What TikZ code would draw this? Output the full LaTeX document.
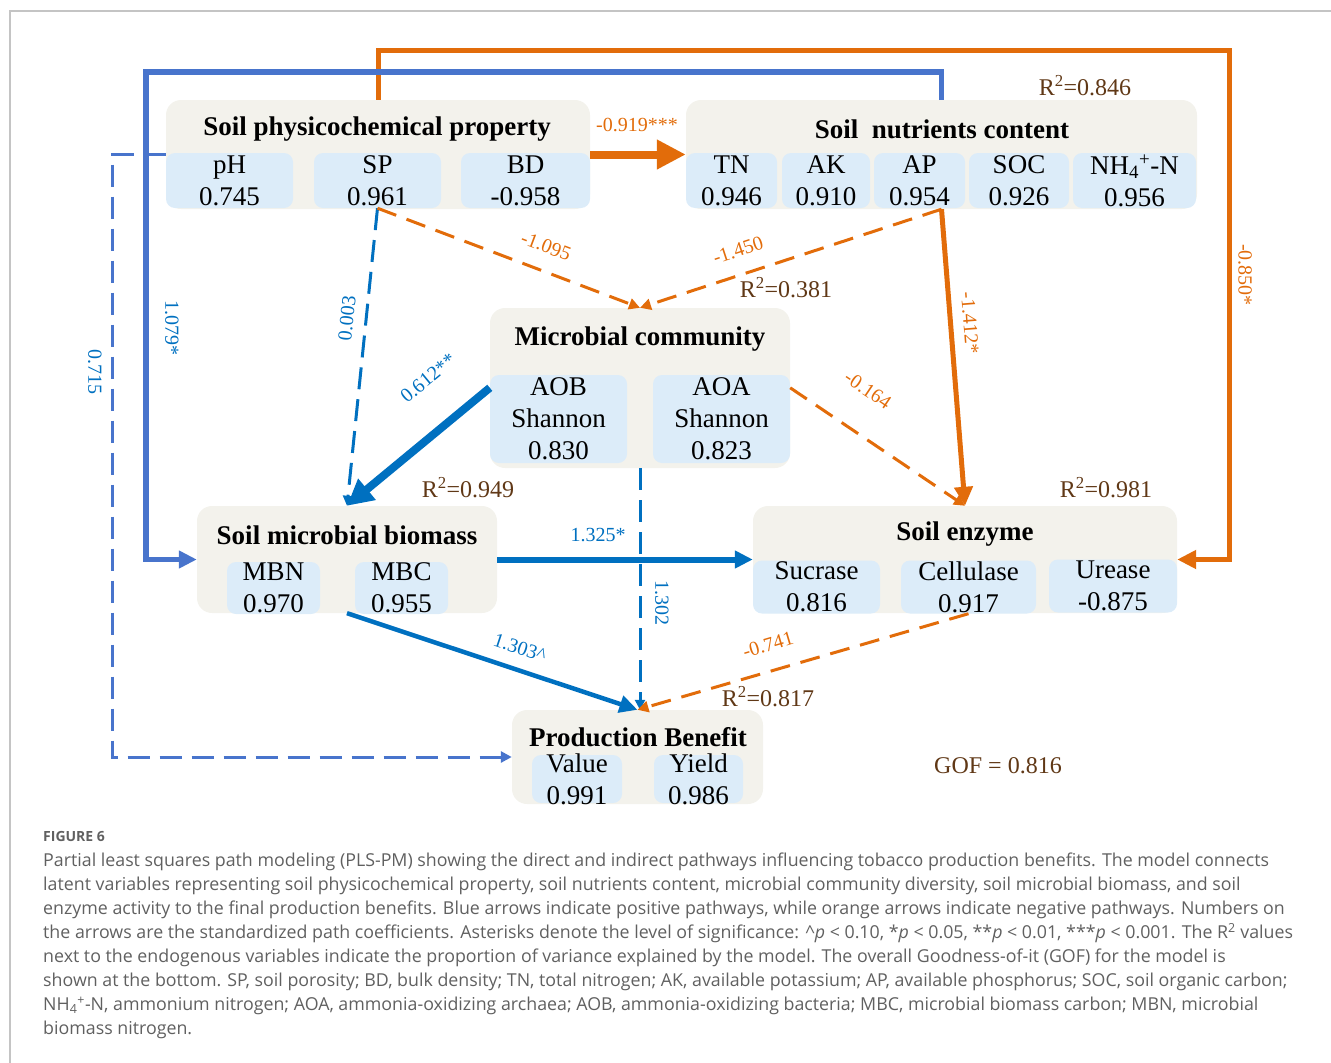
\documentclass[tikz,border=0pt]{standalone}
\usepackage{fontspec}
\setmainfont{Liberation Serif}
\newfontfamily\capfont{Open Sans}
\usetikzlibrary{arrows.meta,calc}
\definecolor{boxgray}{RGB}{243,242,236}
\definecolor{subblue}{RGB}{220,236,249}
\definecolor{negor}{RGB}{226,108,10}
\definecolor{posblue}{RGB}{0,112,192}
\definecolor{loopblue}{RGB}{72,116,204}
\definecolor{rbrown}{RGB}{96,56,22}
\definecolor{capgray}{RGB}{96,96,96}
\definecolor{framegray}{RGB}{196,196,196}
\newcommand{\nhfour}{NH\textsubscript{4}\textsuperscript{+}-N}
\newcommand{\rsq}[1]{R\textsuperscript{2}=#1}

\begin{document}
\begin{tikzpicture}[x=1pt, y=-1pt,
    outerbox/.style={
      rectangle, rounded corners=15pt, fill=boxgray, inner sep=0pt
    },
    subbox/.style 2 args={
      rectangle, rounded corners=9pt, fill=subblue, inner sep=0pt,
      minimum width=#1, minimum height=#2
    },
    subtext/.style={
      font=\fontsize{27}{32}\selectfont, align=center, inner sep=0pt
    },
    boxtitle/.style={
      font=\fontsize{27}{32}\selectfont\bfseries, inner sep=0pt
    },
    coefor/.style={text=negor, font=\fontsize{20}{24}\selectfont, inner sep=0pt},
    coefbl/.style={text=posblue, font=\fontsize{20}{24}\selectfont, inner sep=0pt},
    rsqlabel/.style={text=rbrown, font=\fontsize{24}{28}\selectfont, inner sep=0pt},
    bigneg/.style={negor, line width=8pt, -{Triangle[length=29pt,width=28pt]}},
    negline/.style={negor, line width=5pt, -{Triangle[length=19pt,width=18pt]}},
    negdash/.style={negor, line width=3pt, dash pattern=on 20pt off 11pt,
      -{Triangle[length=11pt,width=11pt]}},
    bigpos/.style={posblue, line width=8pt, -{Triangle[length=26pt,width=26pt]}},
    posline/.style={posblue, line width=#1, -{Triangle[length=18pt,width=17pt]}},
    posdash/.style={posblue, line width=3pt, dash pattern=on 22pt off 10pt,
      -{Triangle[length=10pt,width=10pt]}},
    looppos/.style={loopblue, line width=5.5pt, -{Triangle[length=18pt,width=17pt]}},
    loopdash/.style={loopblue, line width=3pt, dash pattern=on 22pt off 10pt,
      -{Triangle[length=11pt,width=11pt]}}
  ]
  \useasboundingbox (0,0) rectangle (1331,1063);
  \draw[framegray, line width=1.5pt] (10,1063) -- (10,11) -- (1331,11);

  % --- Soil physicochemical property ---
  \node[outerbox, minimum width=424pt, minimum height=109pt] (spp) at (378,154.5) {};
  \node[boxtitle] (sppT) at (377,129) {Soil physicochemical property};
  \node[subbox={127pt}{55pt}, label={[subtext]center:pH\\0.745}] (ph) at (229.5,180.5) {};
  \node[subbox={127pt}{55pt}, label={[subtext]center:SP\\0.961}] (sp) at (377.5,180.5) {};
  \node[subbox={129pt}{55pt}, label={[subtext]center:BD\\-0.958}] (bd) at (525.5,180.5) {};

  % --- Soil nutrients content ---
  \node[outerbox, minimum width=511pt, minimum height=109pt] (snc) at (941.5,154.5) {};
  \node[boxtitle] (sncT) at (942,129) {Soil\ \ nutrients content};
  \node[subbox={91pt}{55pt}, label={[subtext]center:TN\\0.946}] (tn) at (731.5,180.5) {};
  \node[subbox={88pt}{55pt}, label={[subtext]center:AK\\0.910}] (ak) at (826,180.5) {};
  \node[subbox={91pt}{55pt}, label={[subtext]center:AP\\0.954}] (ap) at (919.5,180.5) {};
  \node[subbox={100pt}{55pt}, label={[subtext]center:SOC\\0.926}] (soc) at (1019,180.5) {};
  \node[subbox={123pt}{55pt}, label={[subtext]center:\nhfour\\0.956}] (nh) at (1134.5,180.5) {};
  \node[rsqlabel] (rsnc) at (1085,86) {\rsq{0.846}};

  % --- Microbial community ---
  \node[outerbox, minimum width=300pt, minimum height=160pt] (mc) at (640,388) {};
  \node[boxtitle] (mcT) at (640,339) {Microbial community};
  \node[subbox={137pt}{88pt}, label={[subtext]center:AOB\\Shannon\\0.830}] (aob) at (558.5,419) {};
  \node[subbox={137pt}{88pt}, label={[subtext]center:AOA\\Shannon\\0.823}] (aoa) at (721.5,419) {};
  \node[rsqlabel] (rmc) at (786,288) {\rsq{0.381}};

  % --- Soil microbial biomass ---
  \node[outerbox, minimum width=300pt, minimum height=107pt] (smb) at (347,559.5) {};
  \node[boxtitle] (smbT) at (347,535) {Soil microbial biomass};
  \node[subbox={93pt}{52pt}, label={[subtext]center:MBN\\0.970}] (mbn) at (273.5,588) {};
  \node[subbox={93pt}{52pt}, label={[subtext]center:MBC\\0.955}] (mbc) at (401.5,588) {};
  \node[rsqlabel] (rsmb) at (468,488) {\rsq{0.949}};

  % --- Soil enzyme ---
  \node[outerbox, minimum width=424pt, minimum height=107pt] (se) at (965,559.5) {};
  \node[boxtitle] (seT) at (965,534) {Soil enzyme};
  \node[subbox={127pt}{53pt}, label={[subtext]center:Sucrase\\0.816}] (suc) at (816.5,587) {};
  \node[subbox={135pt}{53pt}, label={[subtext]center:Cellulase\\0.917}] (cel) at (968.5,587) {};
  \node[subbox={128pt}{53pt}, label={[subtext]center:Urease\\-0.875}] (ure) at (1113,586) {};
  \node[rsqlabel] (rse) at (1106,488) {\rsq{0.981}};

  % --- Production Benefit ---
  \node[outerbox, minimum width=251pt, minimum height=94pt] (pb) at (637.5,757) {};
  \node[boxtitle] (pbT) at (638,737) {Production Benefit};
  \node[subbox={90pt}{48pt}, label={[subtext]center:Value\\0.991}] (val) at (577,779) {};
  \node[subbox={89pt}{48pt}, label={[subtext]center:Yield\\0.986}] (yld) at (698.5,779) {};
  \node[rsqlabel] (rpb) at (768,697) {\rsq{0.817}};
  \node[rsqlabel] (gof) at (998,766) {GOF = 0.816};

  % --- long loops ---
  \coordinate (orTop) at (1229,50);
  \coordinate (blTop) at (146,72);
  \coordinate (dLeft) at (112,600);
  \draw[negline] (spp.north) |- (orTop) |- (se.east);
  \draw[looppos] (snc.north) |- (blTop) |- (smb.west);
  \draw[loopdash] (spp.west) -| (dLeft) |- (pb.west);

  % --- direct paths ---
  \draw[bigneg] (spp.east) -- (snc.west);
  \draw[posdash] (sp.south) -- (smb.north);
  \draw[negdash] (sp.south) -- (mc.north);
  \draw[negdash] (snc.south) -- (mc.north);
  \draw[negline] (snc.south) -- (se.north);
  \draw[bigpos] ($(aob.north west)+(0,13)$) -- (smb.north);
  \draw[negdash] ($(aoa.north east)+(0,13)$) -- (se.north);
  \draw[posline=6pt] (smb.east) -- (se.west);
  \draw[posdash] (mc.south) -- (mc.south |- pb.north);
  \draw[posline=4.5pt] (smb.south) -- (pb.north);
  \draw[negdash] (cel.south) -- (pb.north);

  % --- path coefficients ---
  \node[coefor] (c919) at (637,125) {-0.919***};
  \node[coefor, rotate=-90] (c850) at (1245,275) {-0.850*};
  \node[coefbl, rotate=-90] (c1079) at (172,328) {1.079*};
  \node[coefbl, rotate=-90] (c715) at (95,372) {0.715};
  \node[coefbl, rotate=84] (c003) at (347,318) {0.003};
  \node[coefor, rotate=-20.6] (c1095) at (546,246) {-1.095};
  \node[coefor, rotate=18.2] (c1450) at (738,250) {-1.450};
  \node[coefor, rotate=-85.6] (c1412) at (970,323) {-1.412*};
  \node[coefbl, rotate=39.5] (c612) at (428,378) {0.612**};
  \node[coefor, rotate=-34] (c164) at (868,390) {-0.164};
  \node[coefbl] (c1325) at (598,535) {1.325*};
  \node[coefbl, rotate=-90] (c1302) at (662,603) {1.302};
  \node[coefbl, rotate=-18.3] (c1303) at (520,648) {1.303\textasciicircum};
  \node[coefor, rotate=16.5] (c741) at (768,645) {-0.741};

  % --- caption ---
  \node[anchor=west, inner sep=0pt, text=capgray, font=\capfont\bfseries\fontsize{14}{16}\selectfont]
    (fig) at (43,836) {FIGURE 6};
  \node[anchor=north west, inner sep=0pt, align=left, text=capgray,
    font=\capfont\fontsize{17.8}{24}\selectfont] (capt) at (43,853) {%
    Partial least squares path modeling (PLS-PM) showing the direct and indirect pathways influencing tobacco production benefits. The model connects\\
    latent variables representing soil physicochemical property, soil nutrients content, microbial community diversity, soil microbial biomass, and soil\\
    enzyme activity to the final production benefits. Blue arrows indicate positive pathways, while orange arrows indicate negative pathways. Numbers on\\
    the arrows are the standardized path coefficients. Asterisks denote the level of significance: \textasciicircum\textit{p} < 0.10, *\textit{p} < 0.05, **\textit{p} < 0.01, ***\textit{p} < 0.001. The R\textsuperscript{2} values\\
    next to the endogenous variables indicate the proportion of variance explained by the model. The overall Goodness-of-it (GOF) for the model is\\
    shown at the bottom. SP, soil porosity; BD, bulk density; TN, total nitrogen; AK, available potassium; AP, available phosphorus; SOC, soil organic carbon;\\
    \nhfour, ammonium nitrogen; AOA, ammonia-oxidizing archaea; AOB, ammonia-oxidizing bacteria; MBC, microbial biomass carbon; MBN, microbial\\
    biomass nitrogen.};
\end{tikzpicture}
\end{document}
